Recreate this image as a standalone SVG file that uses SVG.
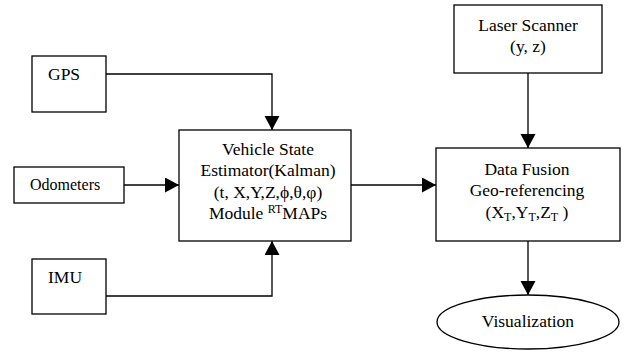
<svg xmlns="http://www.w3.org/2000/svg" width="628" height="353" viewBox="0 0 628 353">
<style>
.box{fill:#fff;stroke:#000;stroke-width:1.3}
.t{font-family:"Liberation Serif","Times New Roman",serif;font-size:17.5px;fill:#000}
.c{text-anchor:middle}
.ln{fill:none;stroke:#000;stroke-width:1.3}
</style>
<defs>
<marker id="ah" markerWidth="16" markerHeight="16" refX="14" refY="7.5" orient="auto" markerUnits="userSpaceOnUse"><path d="M0,0 L14,7.5 L0,15 z" fill="#000"/></marker>
</defs>
<rect width="628" height="353" fill="#fff"/>
<g id="connectors">
<path class="ln" d="M106,74 H272 V130" marker-end="url(#ah)"/>
<path class="ln" d="M124,185 H179" marker-end="url(#ah)"/>
<path class="ln" d="M106,296 H272 V241" marker-end="url(#ah)"/>
<path class="ln" d="M351,185 H436" marker-end="url(#ah)"/>
<path class="ln" d="M528,73 V148" marker-end="url(#ah)"/>
<path class="ln" d="M528,241 V295" marker-end="url(#ah)"/>
</g>
<g id="gps">
<rect class="box" x="32" y="56" width="74" height="56"/>
<text class="t" x="48" y="80">GPS</text>
</g>
<g id="odometers">
<rect class="box" x="14" y="167" width="110" height="36"/>
<text class="t" x="30" y="190" style="font-size:16px">Odometers</text>
</g>
<g id="imu">
<rect class="box" x="32" y="259" width="74" height="55"/>
<text class="t" x="48" y="283">IMU</text>
</g>
<g id="vehicle">
<rect class="box" x="179" y="130" width="172" height="111"/>
<text class="t c" x="268" y="155">Vehicle State</text>
<text class="t c" x="268" y="176">Estimator(Kalman)</text>
<text class="t c" x="268" y="198">(t, X,Y,Z,ϕ,θ,φ)</text>
<text class="t c" x="268" y="219">Module <tspan dy="-6" font-size="12">RT</tspan><tspan dy="6">MAPs</tspan></text>
</g>
<g id="laser">
<rect class="box" x="454" y="5" width="148" height="68"/>
<text class="t c" x="528" y="31">Laser Scanner</text>
<text class="t c" x="528" y="52">(y, z)</text>
</g>
<g id="fusion">
<rect class="box" x="436" y="148" width="184" height="93"/>
<text class="t c" x="527" y="175">Data Fusion</text>
<text class="t c" x="527" y="196">Geo-referencing</text>
<text class="t c" x="527" y="218">(X<tspan dy="3" font-size="12">T</tspan><tspan dy="-3">,Y</tspan><tspan dy="3" font-size="12">T</tspan><tspan dy="-3">,Z</tspan><tspan dy="3" font-size="12">T</tspan><tspan dy="-3"> )</tspan></text>
</g>
<g id="visualization">
<ellipse class="box" cx="528" cy="322" rx="91" ry="27"/>
<text class="t c" x="528" y="327">Visualization</text>
</g>
</svg>
